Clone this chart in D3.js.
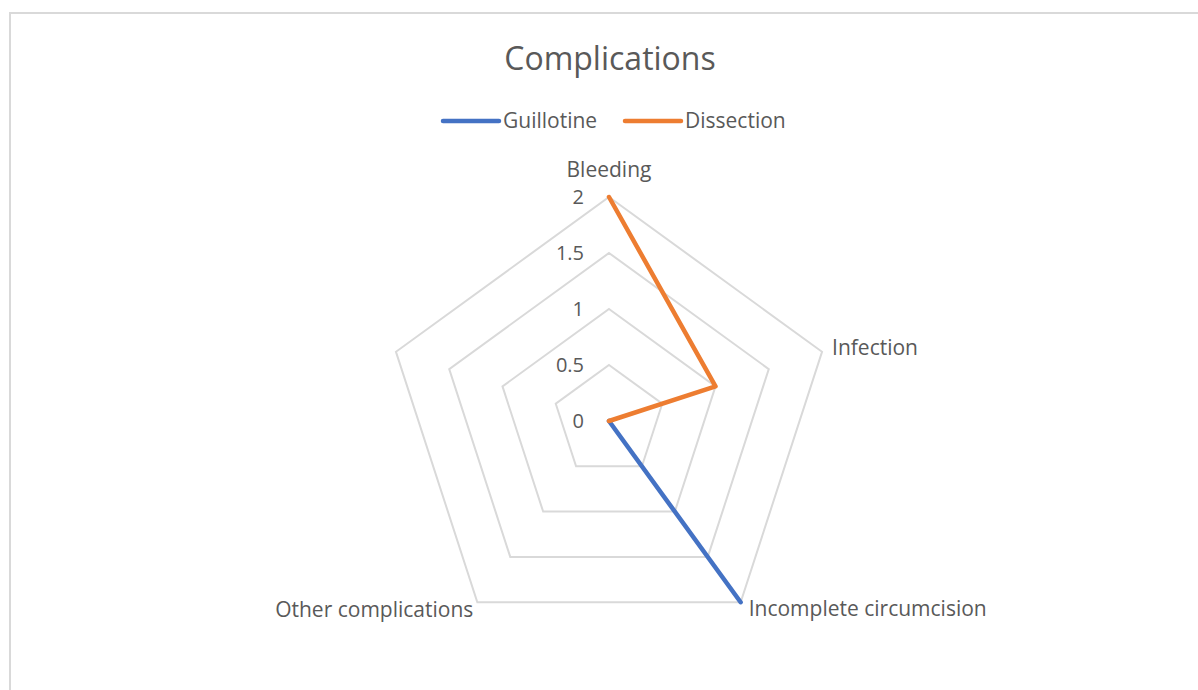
<!DOCTYPE html>
<html>
<head>
<meta charset="utf-8">
<script src="https://cdn.jsdelivr.net/npm/d3@7"></script>
<style>
  body { margin: 0; background: #fff; }
  text { font-family: "Open Sans", sans-serif; fill: #595959; }
</style>
</head>
<body>
<script>
var width = 1198;
var height = 690;

// categories (the fifth axis has no label in the source)
var categories = ["Bleeding", "Infection", "Incomplete circumcision", "Other complications", ""];
var guillotine = [0, 0, 2, 0, null];
var dissection = [2, 1, 0, 0, null];
var ticks = [0, 0.5, 1, 1.5, 2];
var seriesNames = ["Guillotine", "Dissection"];
var colors = ["#4472C4", "#ED7D31"];

var cx = 609, cy = 421, R = 224;

var svg = d3.select("body").append("svg").attr("width", width).attr("height", height);

// chart frame
svg.append("rect")
    .attr("x", 10).attr("y", 13)
    .attr("width", 1200).attr("height", 700)
    .attr("fill", "#fff")
    .attr("stroke", "#d9d9d9")
    .attr("stroke-width", 2);

var r = d3.scaleLinear().domain([0, 2]).range([0, R]);
var angle = d3.scalePoint().domain(d3.range(categories.length)).range([0, 2 * Math.PI * (categories.length - 1) / categories.length]);

function px(i, v) { return cx + r(v) * Math.sin(angle(i)); }
function py(i, v) { return cy - r(v) * Math.cos(angle(i)); }

// grid pentagons
var grid = svg.append("g");
ticks.slice(1).forEach(function (t) {
    grid.append("polygon")
        .attr("points", categories.map(function (c, i) { return px(i, t) + "," + py(i, t); }).join(" "))
        .attr("fill", "none")
        .attr("stroke", "#d9d9d9")
        .attr("stroke-width", 2);
});

// tick labels
svg.append("g").selectAll("text")
    .data(ticks)
    .enter().append("text")
    .attr("x", cx - 25)
    .attr("y", function (d) { return cy - r(d); })
    .attr("dy", "0.35em")
    .attr("text-anchor", "end")
    .style("font-size", "20px")
    .text(function (d) { return d; });

// category labels
var labelPos = [
    { dx: 0, dy: -27, anchor: "middle" },
    { dx: 10, dy: -4, anchor: "start" },
    { dx: 8, dy: 6, anchor: "start" },
    { dx: -4, dy: 7, anchor: "end" },
    { dx: 0, dy: 0, anchor: "end" }
];
svg.append("g").selectAll("text")
    .data(categories)
    .enter().append("text")
    .attr("x", function (d, i) { return px(i, 2) + labelPos[i].dx; })
    .attr("y", function (d, i) { return py(i, 2) + labelPos[i].dy; })
    .attr("dy", "0.35em")
    .attr("text-anchor", function (d, i) { return labelPos[i].anchor; })
    .style("font-size", "21px")
    .text(function (d) { return d; });

// series lines
var line = d3.line()
    .defined(function (d) { return d.v !== null; })
    .x(function (d) { return px(d.i, d.v); })
    .y(function (d) { return py(d.i, d.v); });

[guillotine, dissection].forEach(function (s, k) {
    svg.append("path")
        .datum(s.map(function (v, i) { return { i: i, v: v }; }))
        .attr("d", line)
        .attr("fill", "none")
        .attr("stroke", colors[k])
        .attr("stroke-width", 4.5)
        .attr("stroke-linecap", "round")
        .attr("stroke-linejoin", "round");
});

// title
svg.append("text")
    .attr("x", 610).attr("y", 59)
    .attr("dy", "0.35em")
    .attr("text-anchor", "middle")
    .style("font-size", "32px")
    .text("Complications");

// legend
var legendX = [443, 625];
var legend = svg.append("g").selectAll("g")
    .data(seriesNames)
    .enter().append("g");
legend.append("line")
    .attr("x1", function (d, i) { return legendX[i]; })
    .attr("x2", function (d, i) { return legendX[i] + 56; })
    .attr("y1", 121).attr("y2", 121)
    .attr("stroke", function (d, i) { return colors[i]; })
    .attr("stroke-width", 4.5)
    .attr("stroke-linecap", "round");
legend.append("text")
    .attr("x", function (d, i) { return legendX[i] + 60; })
    .attr("y", 121)
    .attr("dy", "0.35em")
    .style("font-size", "21px")
    .text(function (d) { return d; });
</script>
</body>
</html>
